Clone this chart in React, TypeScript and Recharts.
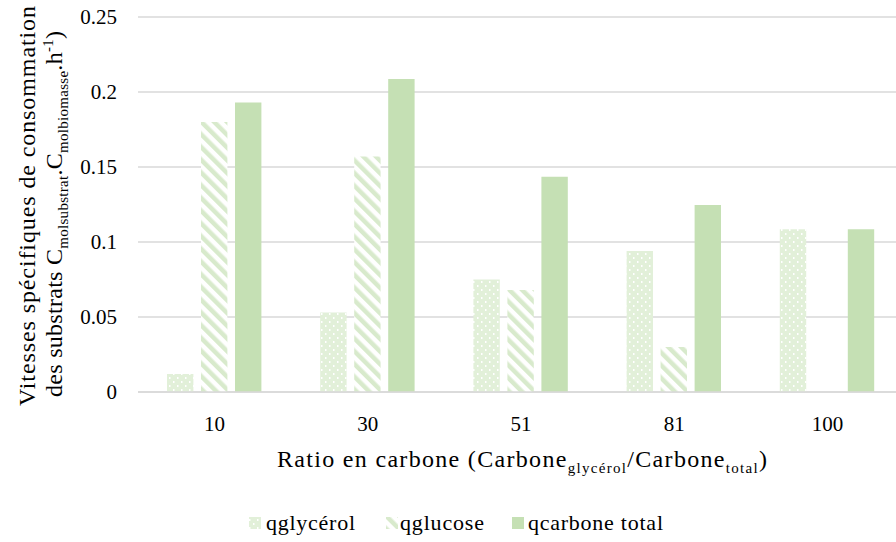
import React from 'react';
import { BarChart, Bar, XAxis, YAxis, CartesianGrid, Legend } from 'recharts';

const categories = ['10', '30', '51', '81', '100'];
const qglycerol = [0.012, 0.053, 0.075, 0.094, 0.1085];
const qglucose = [0.18, 0.157, 0.068, 0.03, 0];
const qcarboneTotal = [0.193, 0.2087, 0.1435, 0.1247, 0.1085];
const yTicks = [0, 0.05, 0.1, 0.15, 0.2, 0.25];
const seriesNames = ['qglycérol', 'qglucose', 'qcarbone total'];

const data = categories.map((c, i) => ({
  ratio: c,
  qglycerol: qglycerol[i],
  qglucose: qglucose[i],
  qcarbone: qcarboneTotal[i],
}));

const FONT = 'Liberation Serif, Times New Roman, Times, DejaVu Serif, Noto Serif, serif';
const GLY_BG = '#E2F0D9';
const GLU_STRIPE = '#D8EACC';
const TOTAL = '#C5E0B4';

const Patterns = ({ suffix }: { suffix: string }) => (
  <defs>
    <pattern id={`gly${suffix}`} width={8} height={8} patternUnits="userSpaceOnUse">
      <rect width={8} height={8} fill={GLY_BG} />
      <rect x={1} y={1} width={1.5} height={2} fill="#fff" />
      <rect x={5} y={5} width={1.5} height={2} fill="#fff" />
    </pattern>
    <pattern id={`glu${suffix}`} width={9} height={9} patternUnits="userSpaceOnUse" patternTransform="rotate(-45)">
      <rect width={9} height={9} fill="#fff" />
      <rect width={4.5} height={9} fill={GLU_STRIPE} />
    </pattern>
  </defs>
);

const YTitle = () => (
  <g fontFamily={FONT} fontSize={24} fill="#000">
    <text
      transform="translate(35, 206) rotate(-90)"
      textAnchor="middle"
      textLength={400}
      lengthAdjust="spacing"
    >
      Vitesses spécifiques de consommation
    </text>
    <text
      transform="translate(62, 214) rotate(-90)"
      textAnchor="middle"
      textLength={366}
      lengthAdjust="spacing"
    >
      des substrats C
      <tspan fontSize={15} dy={6}>molsubstrat</tspan>
      <tspan dy={-6}>.C</tspan>
      <tspan fontSize={15} dy={6}>molbiomasse</tspan>
      <tspan dy={-6}>.h</tspan>
      <tspan fontSize={15} dy={-9}>-1</tspan>
      <tspan dy={9}>)</tspan>
    </text>
  </g>
);

const XTitle = () => (
  <text
    x={522}
    y={467}
    textAnchor="middle"
    fontFamily={FONT}
    fontSize={24}
    fill="#000"
    textLength={490}
    lengthAdjust="spacing"
  >
    Ratio en carbone (Carbone
    <tspan fontSize={15} dy={6}>glycérol</tspan>
    <tspan dy={-6}>/Carbone</tspan>
    <tspan fontSize={15} dy={6}>total</tspan>
    <tspan dy={-6}>)</tspan>
  </text>
);

const swatchFills = ['url(#glyL)', 'url(#gluL)', TOTAL];
const legendSwatchX = [249, 386, 512];
const legendTextX = [266, 400, 528];
const legendTextLen = [89, 84, 135];

const LegendContent = () => (
  <svg width={904} height={40} style={{ display: 'block' }}>
    <Patterns suffix="L" />
    {seriesNames.map((n, i) => (
      <g key={n}>
        <rect x={legendSwatchX[i]} y={15} width={12} height={12} fill={swatchFills[i]} />
        <text
          x={legendTextX[i]}
          y={28}
          fontFamily={FONT}
          fontSize={22}
          fill="#000"
          textLength={legendTextLen[i]}
          lengthAdjust="spacing"
        >
          {n}
        </text>
      </g>
    ))}
  </svg>
);

const tickStyle = { fontFamily: FONT, fontSize: 21, fill: '#000' };

export default function App() {
  return (
    <div
      style={{
        position: 'absolute',
        left: 0,
        top: 0,
        width: 896,
        height: 542,
        overflow: 'hidden',
        background: '#fff',
        fontFamily: FONT,
      }}
    >
      <BarChart
        width={904}
        height={542}
        data={data}
        margin={{ top: 17, right: 0, left: 0, bottom: 0 }}
        barSize={26.4}
        barGap={7.6}
      >
        <Patterns suffix="" />
        <CartesianGrid vertical={false} stroke="#D9D9D9" strokeWidth={1.5} />
        <XAxis
          dataKey="ratio"
          height={110}
          tickLine={false}
          tickSize={0}
          tickMargin={24}
          axisLine={{ stroke: '#D9D9D9', strokeWidth: 1.5 }}
          tick={tickStyle}
          label={<XTitle />}
        />
        <YAxis
          width={138}
          domain={[0, 0.25]}
          ticks={yTicks}
          interval={0}
          tickLine={false}
          axisLine={false}
          tickSize={0}
          tickMargin={21}
          tick={tickStyle}
          label={<YTitle />}
        />
        <Legend verticalAlign="bottom" height={40} content={<LegendContent />} />
        <Bar dataKey="qglycerol" name={seriesNames[0]} fill="url(#gly)" isAnimationActive={false} />
        <Bar dataKey="qglucose" name={seriesNames[1]} fill="url(#glu)" isAnimationActive={false} />
        <Bar dataKey="qcarbone" name={seriesNames[2]} fill={TOTAL} isAnimationActive={false} />
      </BarChart>
    </div>
  );
}
